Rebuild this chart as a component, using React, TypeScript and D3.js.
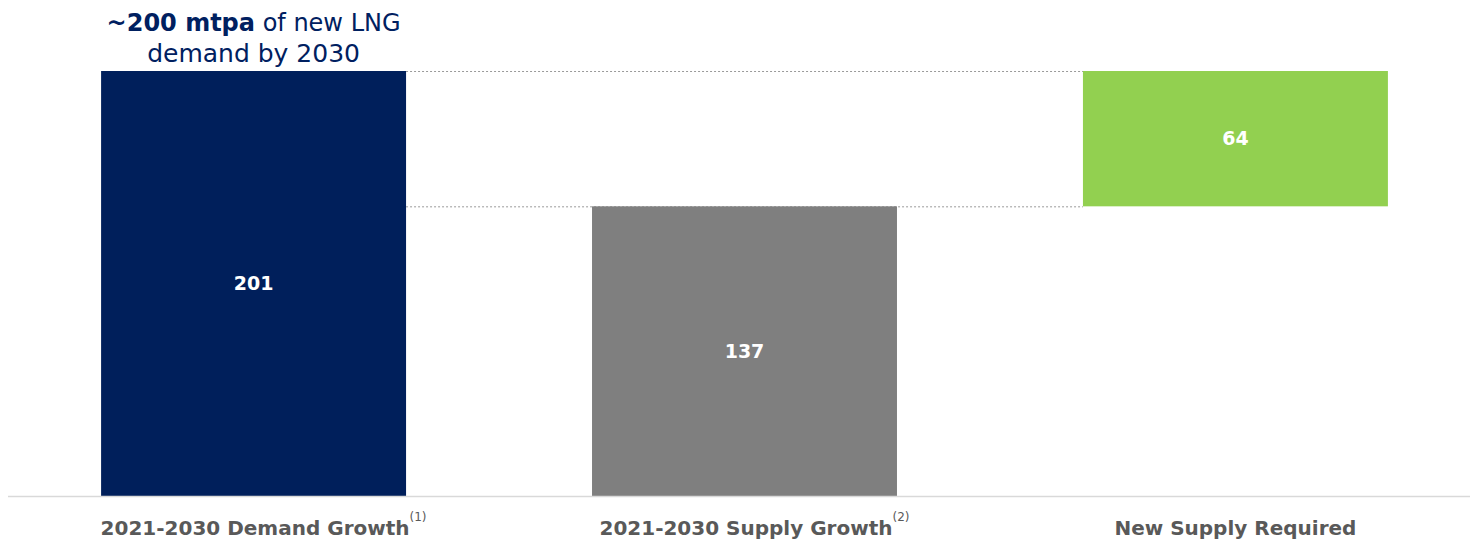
import React from "react";
import * as d3 from "d3";

const categories = ["2021-2030 Demand Growth", "2021-2030 Supply Growth", "New Supply Required"];
const footnotes = ["(1)", "(2)", ""];
const values = [201, 137, 64];
// waterfall: base offset for each bar
const bases = [0, 0, 137];
const colors = ["#001F5B", "#7F7F7F", "#92D050"];
const titleBold = "~200 mtpa";
const titleRest = " of new LNG";
const titleLine2 = "demand by 2030";

const W = 1474;
const H = 544;
const FONT = "'DejaVu Sans', 'Open Sans', sans-serif";

export default function App() {
  const x = d3
    .scaleBand<string>()
    .domain(categories)
    .range([52, 1437])
    .paddingInner(0.3788)
    .paddingOuter(0.1);
  const y = d3.scaleLinear().domain([0, 201]).range([496, 71]);
  const bw = x.bandwidth();

  const x0 = x(categories[0])! + bw;
  const x2 = x(categories[2])!;

  return (
    <div style={{ position: "absolute", left: 0, top: 0 }}>
      <svg width={W} height={H} style={{ display: "block", background: "#fff" }}>
        {/* dotted connectors */}
        {[values[0], values[1]].map((v, i) => (
          <line
            key={"c" + i}
            x1={x0}
            x2={x2}
            y1={y(v) + 0.5}
            y2={y(v) + 0.5}
            stroke="#9A9A9A"
            strokeWidth={1}
            strokeDasharray="2,2"
          />
        ))}
        {categories.map((c, i) => (
          <rect
            key={c}
            x={x(c)}
            y={y(bases[i] + values[i])}
            width={bw}
            height={y(bases[i]) - y(bases[i] + values[i])}
            fill={colors[i]}
          />
        ))}
        {/* axis baseline */}
        <line x1={8} x2={1470} y1={496.5} y2={496.5} stroke="#D9D9D9" strokeWidth={1.5} />
        {categories.map((c, i) => (
          <text
            key={"v" + c}
            x={x(c)! + bw / 2}
            y={(y(bases[i]) + y(bases[i] + values[i])) / 2}
            dy="0.35em"
            textAnchor="middle"
            fill="#fff"
            fontFamily={FONT}
            fontWeight="bold"
            fontSize={19}
          >
            {values[i]}
          </text>
        ))}
        {categories.map((c, i) => (
          <text
            key={"l" + c}
            x={x(c)! + bw / 2 + (footnotes[i] ? 10 : 0)}
            y={535}
            textAnchor="middle"
            fill="#595959"
            fontFamily={FONT}
            fontWeight="bold"
            fontSize={20}
          >
            {c}
            {footnotes[i] && (
              <tspan dy={-14} fontSize={12} fontWeight="normal">
                {footnotes[i]}
              </tspan>
            )}
          </text>
        ))}
        {/* title */}
        <text
          x={x(categories[0])! + bw / 2}
          y={31}
          textAnchor="middle"
          fill="#002060"
          fontFamily={FONT}
          fontSize={24}
        >
          <tspan fontWeight="bold">{titleBold}</tspan>
          <tspan>{titleRest}</tspan>
        </text>
        <text
          x={x(categories[0])! + bw / 2}
          y={62}
          textAnchor="middle"
          fill="#002060"
          fontFamily={FONT}
          fontSize={25}
        >
          {titleLine2}
        </text>
      </svg>
    </div>
  );
}
